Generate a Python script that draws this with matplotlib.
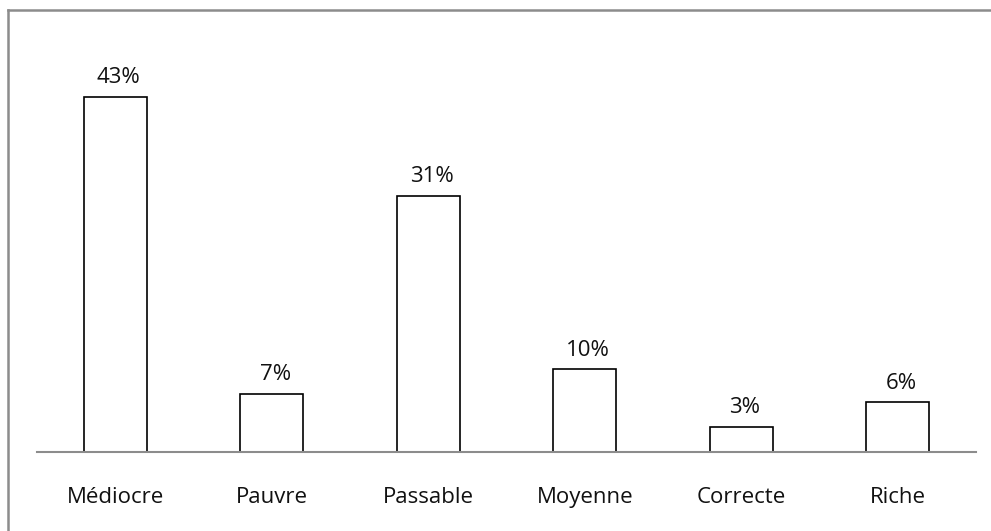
import matplotlib
matplotlib.use("Agg")
import matplotlib.pyplot as plt
from matplotlib.lines import Line2D

# Data
categories = ['Médiocre', 'Pauvre', 'Passable', 'Moyenne', 'Correcte', 'Riche']
values = [43, 7, 31, 10, 3, 6]
labels = ['43%', '7%', '31%', '10%', '3%', '6%']

plt.rcParams['font.family'] = ['Open Sans', 'DejaVu Sans']

fig = plt.figure(figsize=(9.91, 5.31), dpi=100)
ax = fig.add_axes([37 / 991, 79 / 531, 939 / 991, 413 / 531])

x = list(range(len(categories)))
ax.bar(x, values, width=0.40, color='white', edgecolor='black', linewidth=1.2, zorder=2)
ax.set_xlim(-0.5, len(categories) - 0.5)
ax.set_ylim(0, 50)

for i, v in enumerate(values):
    ax.annotate(labels[i], (x[i], v), xytext=(2.5, 10), textcoords='offset points',
                ha='center', va='baseline', fontsize=16, color='#111111')
    ax.annotate(categories[i], (x[i], 0), xytext=(0, -36.5), textcoords='offset points',
                ha='center', va='baseline', fontsize=16, color='#111111')

for s in ['top', 'right', 'left']:
    ax.spines[s].set_visible(False)
ax.spines['bottom'].set_color('#8c8c8c')
ax.spines['bottom'].set_linewidth(1.5)
ax.spines['bottom'].set_zorder(3)
ax.set_xticks([])
ax.set_yticks([])

# outer frame (top and left visible)
fig.add_artist(Line2D([8 / 991, 1], [1 - 10 / 531, 1 - 10 / 531], color='#8c8c8c', linewidth=1.8))
fig.add_artist(Line2D([8 / 991, 8 / 991], [0, 1 - 10 / 531], color='#8c8c8c', linewidth=1.8))

plt.savefig('out.png', dpi=100)
